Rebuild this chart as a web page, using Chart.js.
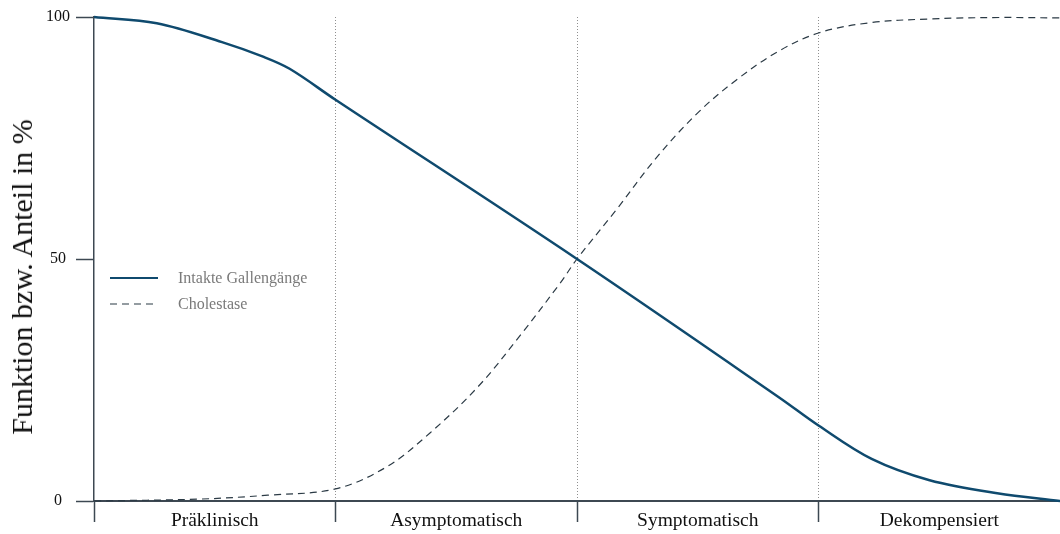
<!DOCTYPE html>
<html lang="de">
<head>
<meta charset="utf-8">
<title>Funktion bzw. Anteil in %</title>
<script src="https://cdn.jsdelivr.net/npm/chart.js@4.4.1/dist/chart.umd.min.js"></script>
<style>
    body { margin: 0; background: #fff; }
    #wrap { position: relative; width: 1060px; height: 534px; }
    #legende { position: absolute; left: 110px; top: 265px; font: 16px "Liberation Serif", "Times New Roman", serif; color: #7a7a7a; }
    .zeile { display: flex; align-items: center; height: 26px; }
    .zeile svg { margin-right: 20px; }
    #ytitel { position: absolute; left: 22px; top: 277px; transform: translate(-50%, -50%) rotate(-90deg);
              white-space: nowrap; font: 30px "Liberation Serif", "Times New Roman", serif; color: #111; line-height: 1; }
</style>
</head>
<body>
<div id="wrap">
    <canvas id="grafik" width="1060" height="534"></canvas>
    <div id="ytitel">Funktion bzw. Anteil in %</div>
    <div id="legende">
        <div class="zeile"><svg width="48" height="4"><line x1="0" y1="2" x2="48" y2="2" stroke="#0f4a6e" stroke-width="2"/></svg>Intakte Gallengänge</div>
        <div class="zeile"><svg width="48" height="4"><line x1="0" y1="2" x2="48" y2="2" stroke="#2b3a45" stroke-width="1.2" stroke-dasharray="7,5"/></svg>Cholestase</div>
    </div>
</div>
<script>
// Stadien (Kategorien zwischen den Trennlinien)
const stadien = ['Präklinisch', 'Asymptomatisch', 'Symptomatisch', 'Dekompensiert'];
const yTicks = [0, 50, 100];

// Intakte Gallengänge: x in Stadien-Einheiten (0..4), y in %
const intaktX = [0, 0.26, 0.53, 0.70, 0.81, 1.0, 2.0, 2.84, 3.0, 3.22, 3.46, 3.74, 4.0];
const intaktY = [100, 98.7, 94.8, 91.8, 89.3, 82.9, 50, 21.3, 15.6, 8.7, 4.3, 1.6, 0];

// Cholestase
const cholX = [0, 0.44, 0.72, 1.0, 1.21, 1.39, 1.59, 1.76, 1.93, 2.0, 2.16, 2.33, 2.50, 2.66, 2.83, 3.0, 3.21, 3.46, 3.75, 4.0];
const cholY = [0, 0.4, 1.2, 2.5, 7.0, 14, 23.6, 33.9, 45, 50, 60, 71, 80.2, 87, 92.8, 96.7, 98.8, 99.6, 99.9, 99.8];

const achse = '#3d4852';
const schrift = '"Liberation Serif", "Times New Roman", serif';

function punkte(xs, ys) {
    return xs.map((x, i) => ({ x: x, y: ys[i] }));
}

new Chart(document.getElementById('grafik'), {
    type: 'line',
    data: {
        datasets: [{
            label: 'Intakte Gallengänge',
            data: punkte(intaktX, intaktY),
            borderColor: '#0f4a6e',
            borderWidth: 2.5,
            tension: 0.35,
            pointRadius: 0,
            clip: 6
        }, {
            label: 'Cholestase',
            data: punkte(cholX, cholY),
            borderColor: '#2b3a45',
            borderWidth: 1.2,
            borderDash: [7, 5],
            tension: 0.35,
            pointRadius: 0,
            clip: 6
        }]
    },
    options: {
        responsive: false,
        animation: false,
        layout: { padding: { top: 17, right: 0, left: 0, bottom: 0 } },
        plugins: { legend: { display: false }, tooltip: { enabled: false } },
        scales: {
            x: {
                type: 'linear',
                min: 0,
                max: stadien.length,
                afterFit: (s) => { s.height = 33; },
                afterBuildTicks: (s) => {
                    const t = [];
                    for (let i = 0; i <= stadien.length * 2; i++) t.push({ value: i / 2 });
                    s.ticks = t;
                },
                border: { color: achse, width: 2, dash: [1, 2] },
                grid: {
                    color: (c) => (c.tick && Number.isInteger(c.tick.value) && c.tick.value > 0 && c.tick.value < stadien.length) ? '#8f8f8f' : 'rgba(0,0,0,0)',
                    lineWidth: 1,
                    tickColor: (c) => (c.tick && Number.isInteger(c.tick.value) && c.tick.value < stadien.length) ? achse : 'rgba(0,0,0,0)',
                    tickLength: 21,
                    tickWidth: 1.5,
                    tickBorderDash: []
                },
                ticks: {
                    autoSkip: false,
                    maxRotation: 0,
                    padding: -13,
                    color: '#111',
                    font: { family: schrift, size: 19.5 },
                    callback: (v) => Number.isInteger(v) ? '' : stadien[Math.floor(v)]
                }
            },
            y: {
                min: 0,
                max: 100,
                afterFit: (s) => { s.width = 94; },
                afterBuildTicks: (s) => { s.ticks = yTicks.map(v => ({ value: v })); },
                border: { color: achse, width: 1.5 },
                grid: { drawOnChartArea: false, tickLength: 18, tickColor: achse, tickWidth: 1.5 },
                ticks: {
                    padding: 6,
                    crossAlign: 'center',
                    color: '#111',
                    font: { family: schrift, size: 16 }
                }
            }
        }
    }
});
</script>
</body>
</html>
